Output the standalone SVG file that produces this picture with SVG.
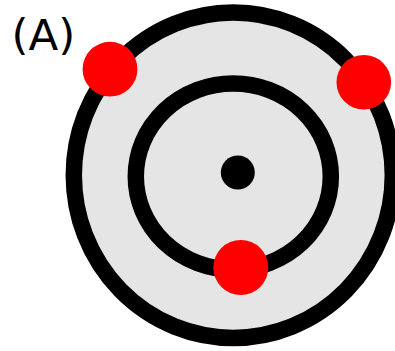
<svg xmlns="http://www.w3.org/2000/svg" width="395" height="351" viewBox="0 0 395 351">
  <style>
    .ring { fill: none; stroke: #000; stroke-width: 16.5; }
    .dot { fill: #ff0000; }
    .label { font-family: "DejaVu Sans", sans-serif; font-size: 43.5px; fill: #000; }
  </style>
  <rect width="395" height="351" fill="#ffffff"/>
  <g id="outer-ring">
    <ellipse cx="233.3" cy="175.2" rx="159.5" ry="162.7" fill="#e5e5e5" stroke="#000" stroke-width="16.5"/>
  </g>
  <g id="inner-ring">
    <ellipse class="ring" cx="233.3" cy="176.5" rx="97.5" ry="93"/>
  </g>
  <g id="nucleus">
    <circle cx="237.8" cy="172.5" r="17" fill="#000"/>
  </g>
  <g id="electron-top-left">
    <circle class="dot" cx="110" cy="69.2" r="27.4"/>
  </g>
  <g id="electron-top-right">
    <circle class="dot" cx="363.8" cy="82.2" r="27.3"/>
  </g>
  <g id="electron-bottom">
    <circle class="dot" cx="240.8" cy="267.5" r="27.5"/>
  </g>
  <g id="label">
    <text class="label" x="11.5" y="50">(A)</text>
  </g>
</svg>
